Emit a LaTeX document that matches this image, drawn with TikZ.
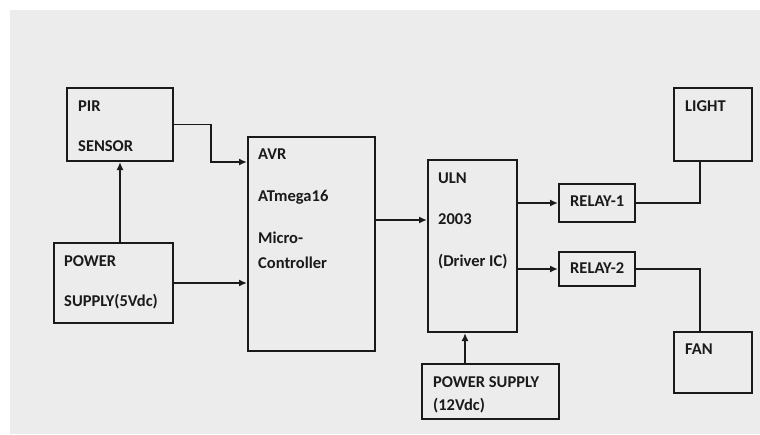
\documentclass[tikz,border=0pt]{standalone}
\usepackage{xcolor}
\usepackage{fontspec}
\setmainfont{Carlito}
\usepackage{tikz}
\usetikzlibrary{positioning,arrows.meta}

\definecolor{bggray}{HTML}{ECECEC}
\definecolor{ink}{HTML}{1A1A1A}

\begin{document}
\begin{tikzpicture}[x=1pt,y=-1pt,>={Latex[length=8pt,width=7pt]},
		blk/.style={draw=ink,line width=2pt,inner sep=0pt},
		lbl/.style={anchor=west,inner sep=0pt,text=ink,font=\fontsize{16.5}{19}\selectfont\bfseries},
		arr/.style={->,draw=ink,line width=1.8pt},
		wire/.style={draw=ink,line width=1.8pt}]
			
			\useasboundingbox (0,0) rectangle (760,434);
			\fill[bggray] (10,10) rectangle (760,434);
			
			% blocks
			\node[blk,minimum width=106pt,minimum height=73pt] (pir) at (120,124.5) {};
			\node[blk,minimum width=119pt,minimum height=80pt] (pow5) at (113.5,283) {};
			\node[blk,minimum width=127pt,minimum height=214pt] (avr) at (311.5,244) {};
			\node[blk,minimum width=89pt,minimum height=172pt] (uln) at (472.5,246) {};
			\node[blk,minimum width=76pt,minimum height=38pt] (rel1) at (597,203) {};
			\node[blk,minimum width=76pt,minimum height=34pt] (rel2) at (597,269) {};
			\node[blk,minimum width=78pt,minimum height=73pt] (light) at (713,124.5) {};
			\node[blk,minimum width=78pt,minimum height=61pt] (fan) at (713,362.5) {};
			\node[blk,minimum width=137pt,minimum height=55pt] (pow12) at (490.5,391.5) {};
			
			% texts
			\node[lbl] (pirA) at (78,106) {PIR};
			\node[lbl] (pirB) at (78,146) {SENSOR};
			\node[lbl] (pow5A) at (64,261) {POWER};
			\node[lbl] (pow5B) at (64,302) {SUPPLY(5Vdc)};
			\node[lbl] (avrA) at (258,154) {AVR};
			\node[lbl] (avrB) at (258,197) {ATmega16};
			\node[lbl] (avrC) at (258,238) {Micro-};
			\node[lbl] (avrD) at (258,263) {Controller};
			\node[lbl] (ulnA) at (438,178) {ULN};
			\node[lbl] (ulnB) at (438,219) {2003};
			\node[lbl] (ulnC) at (438,262) {(Driver IC)};
			\node[lbl] (rel1A) at (570,201) {RELAY-1};
			\node[lbl] (rel2A) at (570,268) {RELAY-2};
			\node[lbl] (lightA) at (685,106) {LIGHT};
			\node[lbl] (fanA) at (685,349) {FAN};
			\node[lbl] (pow12A) at (433,382) {POWER SUPPLY};
			\node[lbl] (pow12B) at (433,406) {(12Vdc)};
			
			% connections
			\coordinate (avrOut) at ([yshift=24pt]avr.east);
			\coordinate (ulnIn) at ([xshift=-7.5pt]uln.south);
			
			\draw[arr] (pir.east) -- ++(37,0) |- (avr.west |- pir.south);
			\draw[arr] (pow5.north -| pir.south) -- (pir.south);
			\draw[arr] (pow5.east) -- (avr.west |- pow5.east);
			\draw[arr] (avrOut) -- (avrOut -| uln.west);
			\draw[arr] (uln.east |- rel1.west) -- (rel1.west);
			\draw[arr] (uln.east |- rel2.west) -- (rel2.west);
			\draw[arr] (ulnIn |- pow12.north) -- (ulnIn);
			\draw[wire] (rel1.east) -| ([xshift=-13pt]light.south);
			\draw[wire] (rel2.east) -| ([xshift=-13pt]fan.north);
			
		\end{tikzpicture}
\end{document}
